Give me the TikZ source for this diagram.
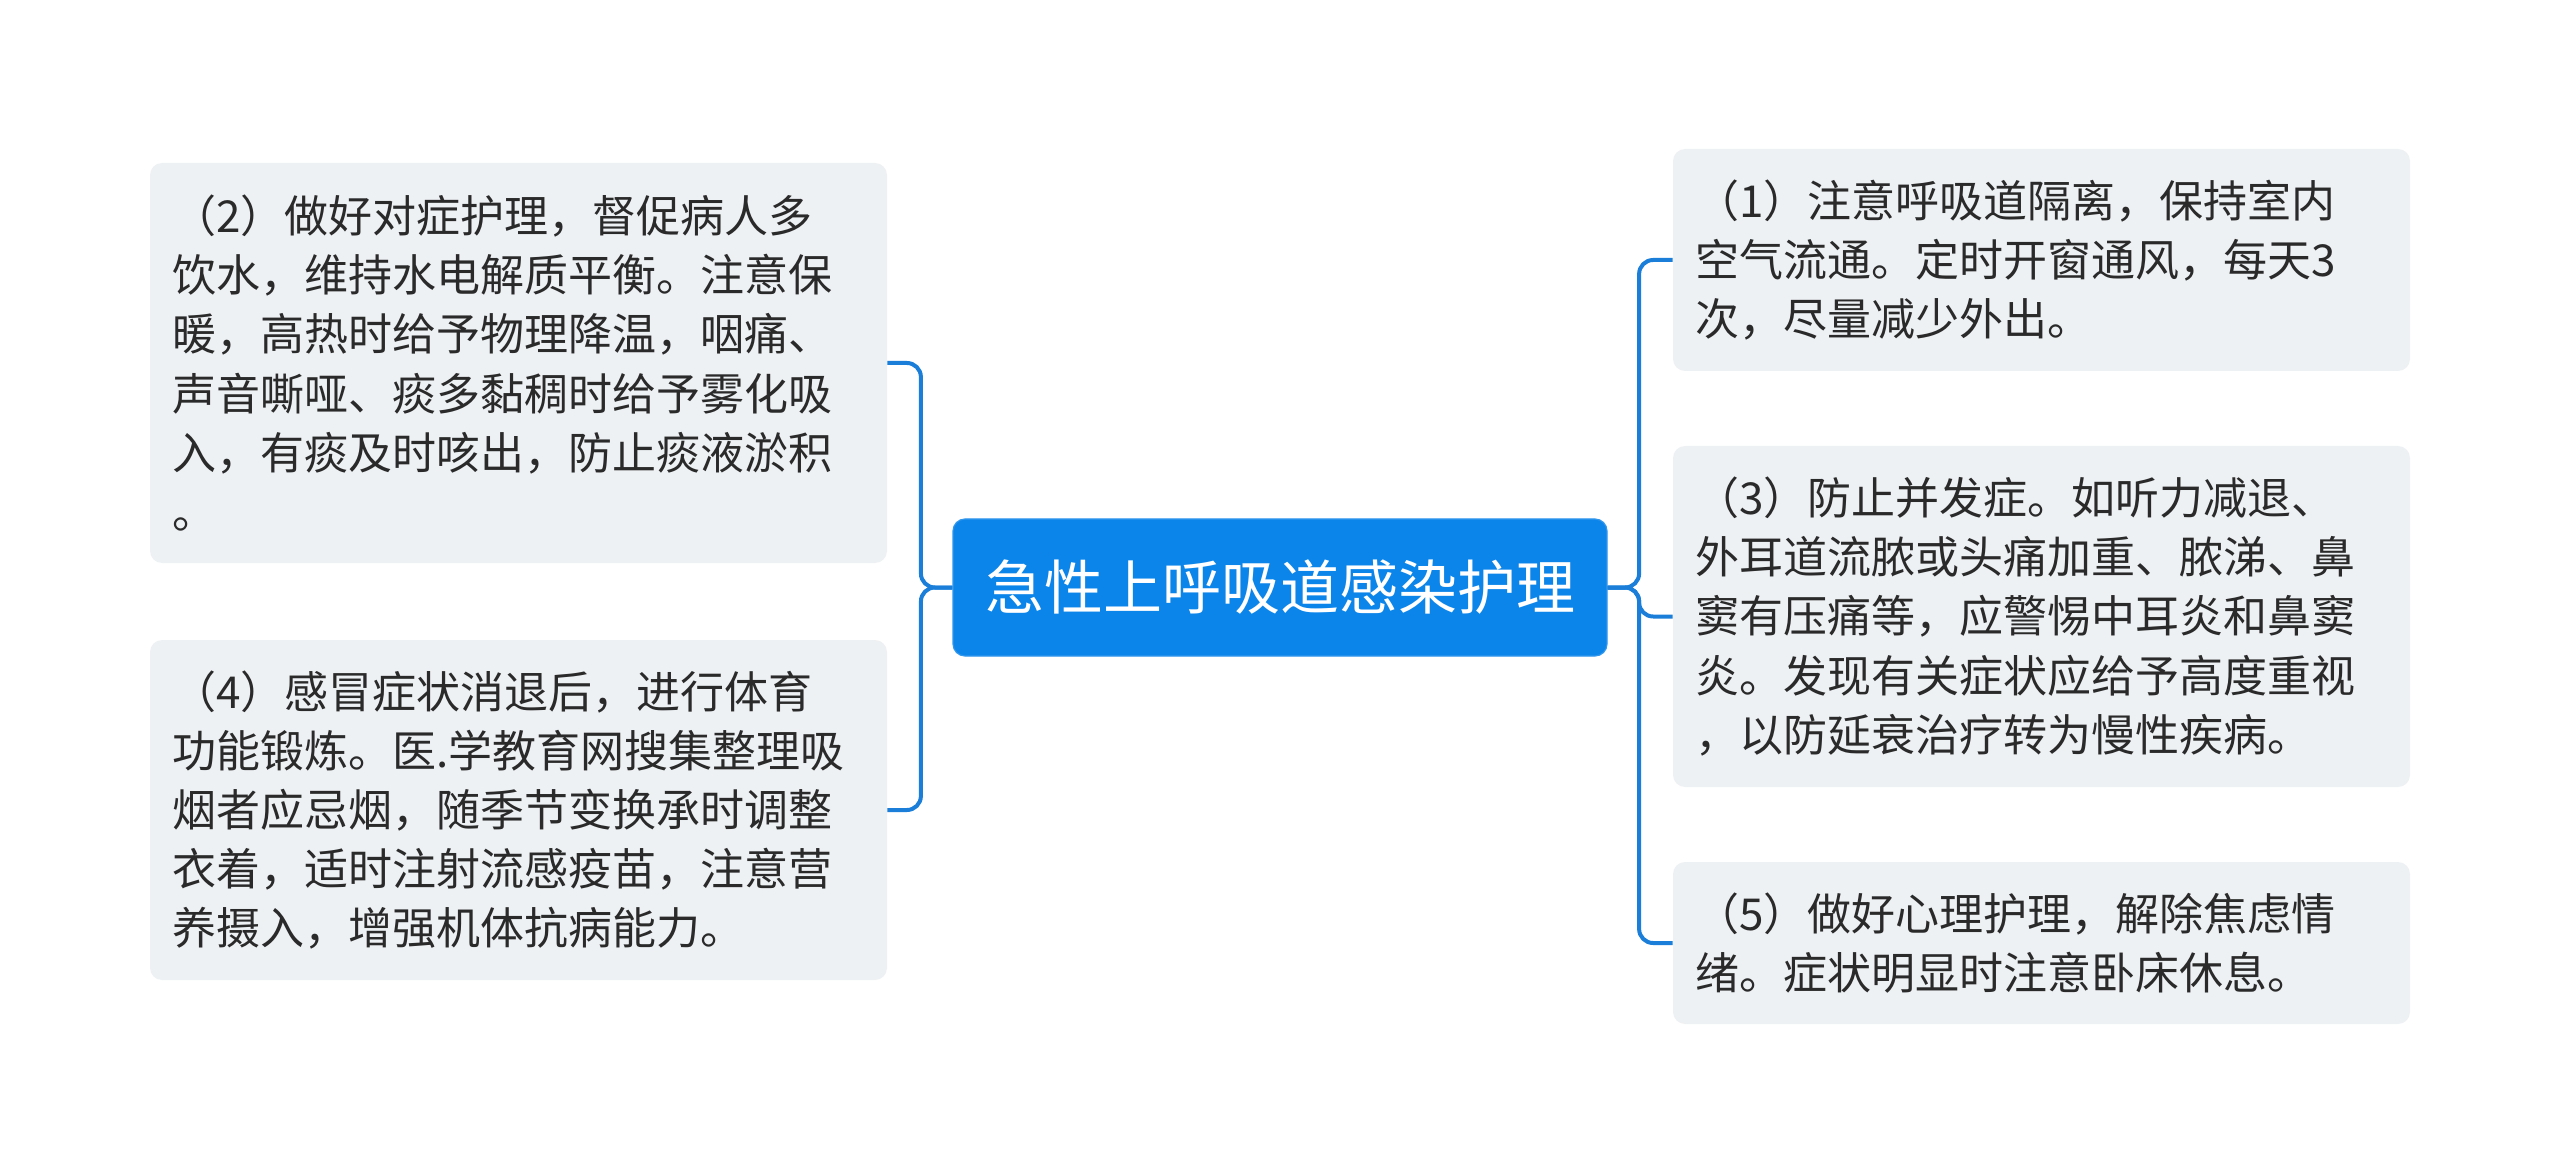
\documentclass[tikz,border=0pt]{standalone}
\usepackage{fontspec}
\newfontfamily\cjk{Noto Sans CJK SC}
\definecolor{linec}{HTML}{1B7FDA}
\definecolor{rootc}{HTML}{0C85EA}
\definecolor{boxc}{HTML}{EEF1F4}
\definecolor{txtc}{HTML}{2A2A2A}
\begin{document}
\begin{tikzpicture}[x=0.5pt,y=-0.5pt,
  leaf/.style={fill=boxc, draw=none, rounded corners=6pt, text width=346pt, inner xsep=11pt, inner ysep=0pt,
    align=left, text=txtc, font=\cjk\fontsize{22}{29.6}\selectfont, minimum width=368.5pt},
  root/.style={fill=rootc, draw=rootc!85!white, line width=0.6pt, rounded corners=6pt, text=white,
    font=\cjk\fontsize{29.5}{34}\selectfont, minimum width=327pt, minimum height=68.5pt, inner sep=0pt},
  conn/.style={draw=linec, line width=2pt, rounded corners=7pt}]
\useasboundingbox[fill=white] (0,0) rectangle (2560,1176);

\node[root] (C) at (1280,587.5) {急性上呼吸道感染护理};

\node[leaf, minimum height=200pt] (L1) at (518.5,363) {（2）做好对症护理，督促病人多\\饮水，维持水电解质平衡。注意保\\暖，高热时给予物理降温，咽痛、\\声音嘶哑、痰多黏稠时给予雾化吸\\入，有痰及时咳出，防止痰液淤积\\。};
\node[leaf, minimum height=170pt] (L2) at (518.5,810) {（4）感冒症状消退后，进行体育\\功能锻炼。医.学教育网搜集整理吸\\烟者应忌烟，随季节变换承时调整\\衣着，适时注射流感疫苗，注意营\\养摄入，增强机体抗病能力。};

\node[leaf, minimum height=111pt] (R1) at (2041.5,260) {（1）注意呼吸道隔离，保持室内\\空气流通。定时开窗通风，每天3\\次，尽量减少外出。};
\node[leaf, minimum height=170.5pt] (R3) at (2041.5,616.5) {（3）防止并发症。如听力减退、\\外耳道流脓或头痛加重、脓涕、鼻\\窦有压痛等，应警惕中耳炎和鼻窦\\炎。发现有关症状应给予高度重视\\，以防延衰治疗转为慢性疾病。};
\node[leaf, minimum height=81pt] (R5) at (2041.5,943) {（5）做好心理护理，解除焦虑情\\绪。症状明显时注意卧床休息。};

\draw[conn] (C.west) -- ++(-31.5,0) |- (L1.east);
\draw[conn] (C.west) -- ++(-31.5,0) |- (L2.east);
\draw[conn] (C.east) -- ++(31.5,0) |- (R1.west);
\draw[conn] (C.east) -- ++(31.5,0) |- (R3.west);
\draw[conn] (C.east) -- ++(31.5,0) |- (R5.west);
\end{tikzpicture}
\end{document}
